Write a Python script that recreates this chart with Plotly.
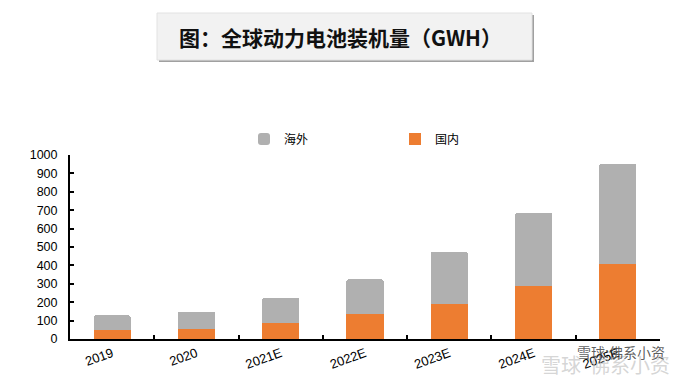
import plotly.graph_objects as go

years = ["2019", "2020", "2021E", "2022E", "2023E", "2024E", "2025E"]
domestic = [49, 54, 89, 134, 192, 290, 406]
total = [128, 148, 224, 324, 474, 685, 953]
overseas = [t - d for t, d in zip(total, domestic)]
y_ticks = [0, 100, 200, 300, 400, 500, 600, 700, 800, 900, 1000]

title_text = "图：全球动力电池装机量（GWH）"

ORANGE = "#ED7D31"
GRAY = "#B0B0B0"
FONT = "Arial, Liberation Sans, Noto Sans CJK SC, sans-serif"
CJK = "Noto Sans CJK SC, sans-serif"

# page body has an 8px margin; figure sized to fill the rest of the window
OFF = 8
WIN_W, WIN_H = 693, 386
W, H = WIN_W - OFF, WIN_H - OFF
# plot area in window pixels: x 70..660, y 155..339
L = 70 - OFF
T = 155 - OFF
pw = 590
ph = 184
R = W - L - pw
B = H - T - ph


def px(x):
    return (x - 70) / pw


def py(y):
    return (339 - y) / ph


fig = go.Figure()
fig.add_trace(go.Bar(x=years, y=domestic, name="国内", marker=dict(color=ORANGE, line=dict(width=0))))
fig.add_trace(go.Bar(x=years, y=overseas, name="海外",
                     marker=dict(color=GRAY, line=dict(width=0), cornerradius=2)))

shapes = [
    dict(type="rect", xref="paper", yref="paper", x0=px(159), x1=px(534), y0=py(62), y1=py(15),
         fillcolor="#A0A0A0", line=dict(width=0), layer="above"),
    dict(type="rect", xref="paper", yref="paper", x0=px(157), x1=px(532), y0=py(60), y1=py(13),
         fillcolor="#F2F2F2", line=dict(width=1, color="#E2E2E2"), layer="above"),
]

annotations = [
    dict(text=title_text, xref="paper", yref="paper", x=px(340), y=py(37), xanchor="center", yanchor="middle",
         showarrow=False, font=dict(family=CJK, size=21, color="#111111", weight="bold")),
    dict(text="雪球  佛系小资", xref="paper", yref="paper", x=px(605), y=py(364), xanchor="center",
         yanchor="middle", showarrow=False, font=dict(family=CJK, size=20, color="rgba(190,190,190,0.65)")),
    dict(text="雪球:佛系小资", xref="paper", yref="paper", x=px(621), y=py(352), xanchor="center",
         yanchor="middle", showarrow=False, font=dict(family=CJK, size=14, color="rgba(50,50,50,0.8)")),
]

fig.update_layout(
    width=W, height=H,
    margin=dict(l=L, r=R, t=T, b=B, pad=0, autoexpand=False),
    paper_bgcolor="white", plot_bgcolor="white",
    barmode="stack", bargap=0.56,
    font=dict(family=FONT, size=12, color="#000000"),
    showlegend=True,
    legend=dict(orientation="h", traceorder="reversed", x=px(244), y=py(139), xanchor="left", yanchor="middle",
                font=dict(family=CJK, size=12, color="#000000"), entrywidth=106, entrywidthmode="pixels",
                bgcolor="rgba(0,0,0,0)", itemclick=False),
    shapes=shapes,
    annotations=annotations,
)

fig.update_xaxes(type="category", showline=True, linecolor="black", linewidth=2, ticks="inside", ticklen=4,
                 tickwidth=1.5, tickcolor="black", tickson="boundaries", tickangle=-20, showgrid=False,
                 tickfont=dict(family=FONT, size=13, color="#000000"), range=[-0.5, 6.5])
fig.update_yaxes(range=[0, 1000], tickvals=y_ticks, showline=True, linecolor="black", linewidth=2,
                 ticks="inside", ticklen=4, tickwidth=1.5, tickcolor="black", showgrid=False, zeroline=False,
                 tickfont=dict(family=FONT, size=12.5, color="#000000"), ticklabelstandoff=8)

fig.write_html("out.html")
